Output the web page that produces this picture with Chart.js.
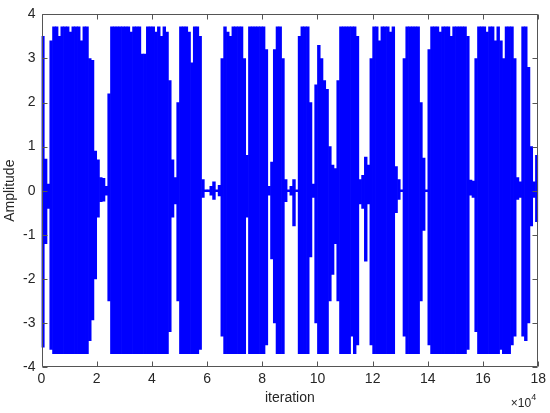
<!DOCTYPE html>
<html><head><meta charset="utf-8">
<script src="https://cdn.jsdelivr.net/npm/chart.js@4.4.0/dist/chart.umd.min.js"></script>
<style>html,body{margin:0;padding:0;background:#fff;}#wrap{width:550px;height:413px;}</style>
</head><body><div id="wrap"><canvas id="c" width="550" height="413"></canvas></div>
<script>
// Signal envelope: one bin per 0.1 ×10^4 iterations (180 bins over 0..18 ×10^4)
const binWidth = 0.1;
const envMax = [
  3.5, 0.72, 0.15, 3.4, 3.72, 3.72, 3.5, 3.72, 3.72, 3.72,
  3.6, 3.72, 3.72, 3.72, 3.4, 3.72, 3.72, 3.0, 2.96, 0.9,
  0.7, 0.3, 0.28, 0.1, 2.2, 3.72, 3.72, 3.72, 3.72, 3.72,
  3.72, 3.72, 3.6, 3.72, 3.72, 3.72, 3.1, 3.1, 3.72, 3.72,
  3.72, 3.6, 3.72, 3.5, 3.72, 3.6, 2.5, 0.7, 0.3, 2.0,
  3.72, 3.72, 3.72, 3.6, 2.9, 3.72, 3.72, 3.5, 0.25, 0.02,
  0.02, 0.1, 0.2, 0.02, 0.12, 3.0, 3.72, 3.6, 3.5, 3.72,
  3.72, 3.72, 3.72, 3.0, 0.8, 3.72, 3.72, 3.72, 3.72, 3.72,
  3.72, 3.2, 0.1, 0.65, 3.2, 3.72, 3.72, 3.0, 0.25, 0.02,
  0.1, 0.25, 0.02, 3.5, 3.72, 3.72, 3.72, 2.0, 0.15, 2.4,
  3.3, 3.0, 2.5, 2.3, 1.0, 0.58, 0.5, 2.5, 3.72, 3.72,
  3.72, 3.72, 3.72, 3.72, 3.5, 0.25, 0.35, 0.76, 0.58, 3.0,
  3.72, 3.72, 3.4, 3.72, 3.72, 3.72, 3.6, 3.72, 0.55, 0.25,
  0.02, 3.0, 3.72, 3.72, 3.72, 3.72, 3.72, 2.0, 0.74, 0.02,
  3.2, 3.72, 3.72, 3.72, 3.6, 3.72, 3.72, 3.72, 3.5, 3.72,
  3.72, 3.72, 3.72, 3.72, 3.5, 0.24, 0.22, 3.0, 3.72, 3.72,
  3.72, 3.6, 3.72, 3.72, 3.4, 3.72, 3.4, 3.0, 3.72, 3.72,
  3.72, 3.0, 0.3, 0.2, 3.72, 3.72, 2.8, 1.0, 0.2, 0.8
];
const envMin = [
  -3.55, -1.2, -0.4, -3.6, -3.7, -3.7, -3.7, -3.7, -3.7, -3.7,
  -3.7, -3.7, -3.7, -3.7, -3.7, -3.7, -3.7, -3.4, -2.93, -2.0,
  -0.6, -0.25, -0.24, -0.1, -2.5, -3.7, -3.7, -3.7, -3.7, -3.7,
  -3.7, -3.7, -3.7, -3.7, -3.7, -3.7, -3.7, -3.7, -3.7, -3.7,
  -3.7, -3.7, -3.7, -3.7, -3.7, -3.7, -3.2, -0.6, -0.3, -2.5,
  -3.7, -3.7, -3.7, -3.7, -3.7, -3.7, -3.7, -3.6, -0.15, -0.02,
  -0.02, -0.1, -0.2, -0.02, -0.12, -3.3, -3.7, -3.7, -3.7, -3.7,
  -3.7, -3.7, -3.7, -3.7, -0.6, -3.7, -3.7, -3.7, -3.7, -3.7,
  -3.7, -3.5, -0.1, -1.55, -3.0, -3.7, -3.7, -3.7, -0.25, -0.02,
  -0.1, -0.8, -0.02, -3.7, -3.7, -3.7, -3.7, -1.5, -0.15, -3.0,
  -3.7, -3.7, -3.7, -3.7, -2.5, -1.9, -1.2, -2.5, -3.7, -3.7,
  -3.7, -3.7, -3.3, -3.7, -3.5, -0.3, -0.4, -1.6, -0.3, -3.5,
  -3.7, -3.7, -3.7, -3.7, -3.7, -3.7, -3.7, -3.7, -0.5, -0.2,
  -0.02, -3.3, -3.7, -3.7, -3.7, -3.7, -3.7, -2.5, -0.9, -0.02,
  -3.5, -3.7, -3.7, -3.7, -3.7, -3.7, -3.7, -3.7, -3.7, -3.7,
  -3.7, -3.7, -3.7, -3.7, -3.6, -0.1, -0.15, -3.2, -3.7, -3.7,
  -3.7, -3.7, -3.7, -3.7, -3.7, -3.7, -3.6, -3.7, -3.7, -3.7,
  -3.5, -3.3, -0.2, -0.15, -3.3, -3.4, -3.0, -0.8, -0.15, -0.7
];
const xTicks = [0, 2, 4, 6, 8, 10, 12, 14, 16, 18];
const yTicks = [-4, -3, -2, -1, 0, 1, 2, 3, 4];
const xTitle = 'iteration';
const yTitle = 'Amplitude';
const xExpBase = '\u00d710';
const xExp = '4';

const points = envMax.map((hi, i) => ({ x: (i + 0.5) * binWidth, y: [envMin[i], hi] }));

const FONT = "'Liberation Sans', Arial, Helvetica, sans-serif";
const TXT = '#262626';
const AX = '#555555';

const matlabAxes = {
  id: 'matlabAxes',
  afterDatasetsDraw(chart) {
    const { ctx, chartArea: a, scales: { x, y } } = chart;
    ctx.save();
    ctx.strokeStyle = AX;
    ctx.lineWidth = 1;
    const L = Math.round(a.left) + 0.5, R = Math.round(a.right) - 0.5;
    const T = Math.round(a.top) + 0.5, B = Math.round(a.bottom) - 0.5;
    ctx.beginPath();
    ctx.rect(L, T, R - L, B - T);
    const tl = 5;
    xTicks.forEach(v => {
      const px = Math.round(x.getPixelForValue(v)) + 0.5;
      ctx.moveTo(px, B); ctx.lineTo(px, B - tl);
      ctx.moveTo(px, T); ctx.lineTo(px, T + tl);
    });
    yTicks.forEach(v => {
      const py = Math.round(y.getPixelForValue(v)) + 0.5;
      ctx.moveTo(L, py); ctx.lineTo(L + tl, py);
      ctx.moveTo(R, py); ctx.lineTo(R - tl, py);
    });
    ctx.stroke();
    // ×10^4 exponent label under the right end of the x axis
    ctx.fillStyle = TXT;
    ctx.textBaseline = 'alphabetic';
    ctx.textAlign = 'right';
    ctx.font = '9px ' + FONT;
    const expW = ctx.measureText(xExp).width;
    const xr = a.right - 2;
    ctx.fillText(xExp, xr, a.bottom + 33);
    ctx.font = '12px ' + FONT;
    ctx.fillText(xExpBase, xr - expW, a.bottom + 40);
    ctx.restore();
  }
};

new Chart(document.getElementById('c'), {
  type: 'bar',
  data: {
    datasets: [{
      data: points,
      backgroundColor: '#0000ff',
      borderWidth: 0,
      barPercentage: 1.0,
      categoryPercentage: 1.0,
      grouped: false
    }]
  },
  options: {
    responsive: false,
    devicePixelRatio: 1,
    animation: false,
    layout: { padding: { top: 9, right: 11.7, left: 0, bottom: 0 } },
    plugins: { legend: { display: false }, tooltip: { enabled: false } },
    scales: {
      x: {
        type: 'linear', min: 0, max: 18, offset: false,
        afterBuildTicks: s => { s.ticks = xTicks.map(v => ({ value: v })); },
        afterFit: s => { s.height = 46; },
        grid: { display: false, drawTicks: false },
        border: { display: false },
        ticks: { color: TXT, font: { family: FONT, size: 14 }, padding: 4, maxRotation: 0, autoSkip: false },
        title: { display: true, text: xTitle, color: TXT, font: { family: FONT, size: 14 }, padding: { top: 0, bottom: 6 } }
      },
      y: {
        type: 'linear', min: -4, max: 4,
        afterBuildTicks: s => { s.ticks = yTicks.map(v => ({ value: v })); },
        afterFit: s => { s.width = 41.5; },
        grid: { display: false, drawTicks: false },
        border: { display: false },
        ticks: { color: TXT, font: { family: FONT, size: 14 }, padding: 6, autoSkip: false },
        title: { display: true, text: yTitle, color: TXT, font: { family: FONT, size: 14 }, padding: { top: 2, bottom: 0 } }
      }
    }
  },
  plugins: [matlabAxes]
});
</script>
</body></html>
